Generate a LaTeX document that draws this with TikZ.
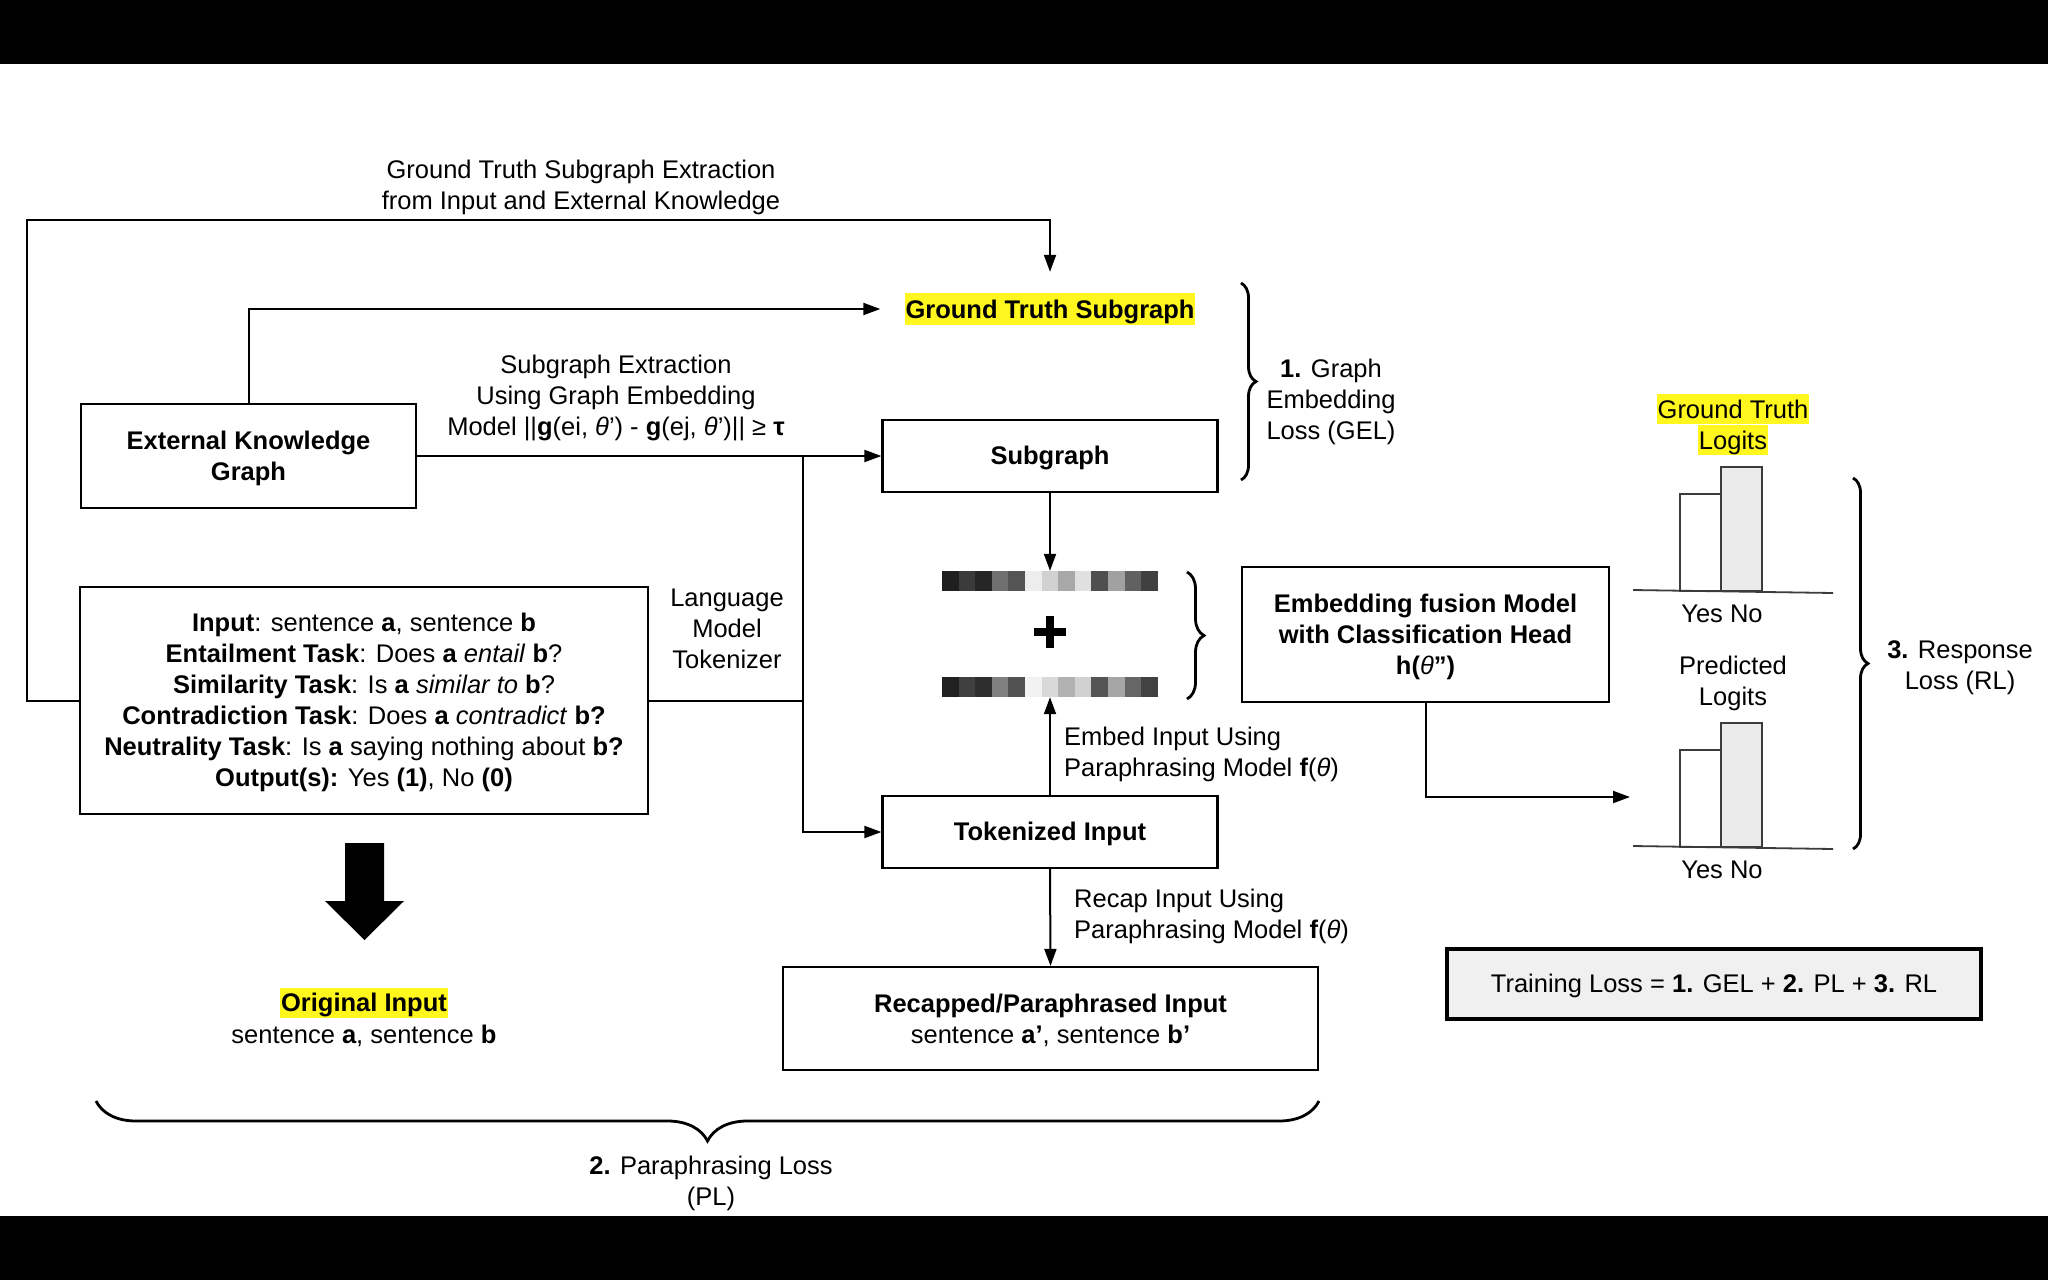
\documentclass[tikz,border=0pt]{standalone}
\usepackage{fontspec}
\setmainfont{Liberation Sans}
\usetikzlibrary{arrows.meta,decorations.pathreplacing,calc}
\definecolor{hl}{HTML}{FFF71E}
\definecolor{barfill}{HTML}{EBEBEB}
\definecolor{chartline}{HTML}{3C3C3C}
\definecolor{lossfill}{HTML}{F0F0F0}
\begin{document}
\begin{tikzpicture}[x=1pt,y=-1pt,
  every node/.style={font=\fontsize{25.5}{31}\selectfont, align=center, inner sep=0pt},
  tx/.style={yshift=-2pt},
  box/.style={draw, line width=2.2pt, fill=white},
  arr/.style={line width=2pt, -{Triangle[length=17pt,width=12pt]}},
  ln/.style={line width=2pt},
  hlline/.style={fill=hl, inner xsep=1pt, inner ysep=2.5pt, text height=22pt, text depth=3pt},
  brc/.style={line width=2.8pt, decorate, decoration={brace, amplitude=#1}},
  bar/.style={chartline, line width=1.8pt},
]
\useasboundingbox (0,0) rectangle (2048,1280);
\fill[black] (0,0) rectangle (2048,64);
\fill[black] (0,1216) rectangle (2048,1280);
\fill[white] (0,64) rectangle (2048,1216);

% boxes
\node[box, minimum width=335pt, minimum height=104pt] (ekg) at (248.5,456) {};
\node[tx] (ekgt) at (ekg.center) {\textbf{External Knowledge}\\\textbf{Graph}};
\node[box, minimum width=568pt, minimum height=227pt] (inp) at (364,700.5) {};
\node[tx] (inpt) at (inp.center)
  {\textbf{Input}: sentence \textbf{a}, sentence \textbf{b}\\
   \textbf{Entailment Task}: Does \textbf{a} \textit{entail} \textbf{b}?\\
   \textbf{Similarity Task}: Is \textbf{a} \textit{similar to} \textbf{b}?\\
   \textbf{Contradiction Task}: Does \textbf{a} \textit{contradict} \textbf{b?}\\
   \textbf{Neutrality Task}: Is \textbf{a} saying nothing about \textbf{b?}\\
   \textbf{Output(s):} Yes \textbf{(1)}, No \textbf{(0)}};
\node[box, minimum width=335pt, minimum height=72pt] (sub) at (1050,456) {};
\node[tx] (subt) at (sub.center) {\textbf{Subgraph}};
\node[box, minimum width=335pt, minimum height=72pt] (tok) at (1050,832) {};
\node[tx] (tokt) at (tok.center) {\textbf{Tokenized Input}};
\node[box, minimum width=535pt, minimum height=103pt] (rec) at (1050.5,1018.5) {};
\node[tx] (rect) at (rec.center) {\textbf{Recapped/Paraphrased Input}\\sentence \textbf{a’}, sentence \textbf{b’}};
\node[box, minimum width=367pt, minimum height=135pt] (fus) at (1425.5,634.5) {};
\node[tx] (fust) at (fus.center)
  {\textbf{Embedding fusion Model}\\\textbf{with Classification Head}\\\textbf{h(}\textit{θ}\textbf{”)}};
\node[draw, line width=4.5pt, fill=lossfill, minimum width=534pt, minimum height=70pt] (loss) at (1714,984) {};
\node[tx] (losst) at (loss.center) {Training Loss = \textbf{1.} GEL + \textbf{2.} PL + \textbf{3.} RL};

% highlighted texts
\node[fill=hl, inner xsep=1pt, inner ysep=4pt, text height=21pt, text depth=3pt] (gts) at (1050,309) {\textbf{Ground Truth Subgraph}};
\node[fill=hl, inner xsep=1pt, inner ysep=3.5pt, text height=20pt, text depth=2.5pt] (orig) at (364,1003) {\textbf{Original Input}};
\node[tx] (origs) at (364,1034) {sentence \textbf{a}, sentence \textbf{b}};
\node[hlline] (gtl1) at (1733,408.5) {Ground Truth};
\node[hlline] (gtl2) at (1733,439.5) {Logits};

% labels
\node[tx] (lbl1) at (581,185) {Ground Truth Subgraph Extraction\\from Input and External Knowledge};
\node[tx] (lbl2) at (616,396) {Subgraph Extraction\\Using Graph Embedding\\Model ||\textbf{g}(ei, \textit{θ}’) - \textbf{g}(ej, \textit{θ}’)|| ≥ \textbf{τ}};
\node[tx] (lbl3) at (727,627) {Language\\Model\\Tokenizer};
\node[tx, anchor=west, align=left] (lbl4) at (1064,752) {Embed Input Using\\Paraphrasing Model \textbf{f}(\textit{θ})};
\node[tx, anchor=west, align=left] (lbl5) at (1074,914) {Recap Input Using\\Paraphrasing Model \textbf{f}(\textit{θ})};
\node[tx] (gel) at (1331,400) {\textbf{1.} Graph\\Embedding\\Loss (GEL)};
\node[tx] (rl) at (1960,666) {\textbf{3.} Response\\Loss (RL)};
\node[tx] (pl) at (711,1181) {\textbf{2.} Paraphrasing Loss\\(PL)};
\node[tx] (pred) at (1733,681) {Predicted\\Logits};
\node[tx] (yn1) at (1722,612) {Yes No};
\node[tx] (yn2) at (1722,868) {Yes No};

% embedding bars
\node[minimum width=216pt, minimum height=20pt] (bar1) at (1050,581) {};
\node[minimum width=216pt, minimum height=20pt] (bar2) at (1050,687) {};
\foreach \k [count=\i from 0] in {88,77,85,56,67,7,18,34,12,69,37,62,75}{
  \fill[black!\k] (942+\i*16.6,571) rectangle ++(16.8,20);
}
\foreach \k [count=\i from 0] in {87,75,82,50,68,5,15,30,18,67,35,60,74}{
  \fill[black!\k] (942+\i*16.6,677) rectangle ++(16.8,20);
}
\node[minimum size=32pt] (plus) at (1050,632) {};
\draw[line width=8pt] (plus.north) -- (plus.south) (plus.west) -- (plus.east);

% big arrow
\fill[black] (345,843) -- (384,843) -- (384,901) -- (404,901) -- (364.5,940) -- (325,901) -- (345,901) -- cycle;

% charts
\draw[bar, fill=white] (1680,494) rectangle (1721,591);
\draw[bar, fill=barfill] (1721,467) rectangle (1762,591);
\draw[bar] (1633,590) -- (1833,593);
\draw[bar, fill=white] (1680,750) rectangle (1721,847);
\draw[bar, fill=barfill] (1721,723) rectangle (1762,847);
\draw[bar] (1633,846) -- (1833,849);

% connectors
\coordinate (lc) at (27,220);
\draw[arr, shorten >=21pt] (inp.west) -| (lc) -| (gts.north);
\draw[arr, shorten >=24pt] (ekg.north) |- (gts.west);
\draw[arr] (ekg.east) -- (sub.west);
\coordinate (j1) at (803,456);
\draw[arr] (j1) |- (tok.west);
\draw[ln] (inp.east) -- (inp.east -| j1);
\draw[arr] (sub.south) -- (bar1.north);
\draw[arr] (tok.north) -- (bar2.south);
\draw[arr] (tok.south) -- (rec.north);
\coordinate (pin) at (1630,797);
\draw[arr] (fus.south) |- (pin);

% braces
\draw[brc=15pt] (1241,283) -- (1241,480);
\draw[brc=17pt] (1187,572) -- (1187,699);
\draw[brc=15pt] (1853,478) -- (1853,849);
\draw[brc=40pt] (1319,1101) -- (96,1101);
\end{tikzpicture}
\end{document}
